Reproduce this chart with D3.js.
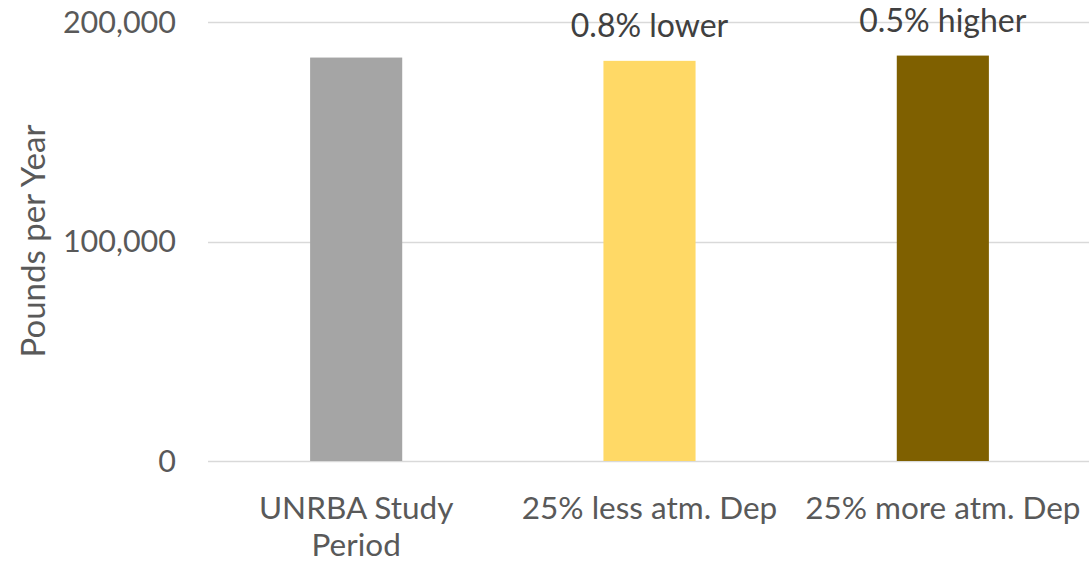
<!DOCTYPE html>
<html>
<head>
<meta charset="utf-8">
<script src="https://cdn.jsdelivr.net/npm/d3@7"></script>
<style>
  body { margin: 0; background: #fff; }
  text { font-family: Lato, "Open Sans", sans-serif; fill: #595959; }
</style>
</head>
<body>
<div class="chart"></div>
<script>
// categories and values
const categories = ["UNRBA Study Period", "25% less atm. Dep", "25% more atm. Dep"];
const categoryLines = [["UNRBA Study", "Period"], ["25% less atm. Dep"], ["25% more atm. Dep"]];
const values = [183800, 182300, 184700];
const notes = ["", "0.8% lower", "0.5% higher"];
const barColors = ["#a5a5a5", "#ffd966", "#7f6000"];
const yTicks = [0, 100000, 200000];

const width = 1089, height = 562;
const margin = {top: 22, right: 0, bottom: 101, left: 209.5};

const svg = d3.select(".chart")
  .append("svg")
    .attr("width", width)
    .attr("height", height);

const xScale = d3.scaleBand()
  .domain(categories)
  .range([margin.left, width - margin.right + 0.5])
  .paddingInner(0.686)
  .paddingOuter(0.343);

const yScale = d3.scaleLinear()
  .domain([0, 200000])
  .range([height - margin.bottom, margin.top]);

// gridlines
svg.append("g")
  .selectAll("line")
  .data(yTicks)
  .join("line")
    .attr("x1", 208)
    .attr("x2", width)
    .attr("y1", d => Math.round(yScale(d)) + 0.5)
    .attr("y2", d => Math.round(yScale(d)) + 0.5)
    .attr("stroke", "#d9d9d9")
    .attr("stroke-width", 1.5);

// y tick labels
svg.append("g")
  .selectAll("text")
  .data(yTicks)
  .join("text")
    .attr("x", 176)
    .attr("y", d => yScale(d))
    .attr("dy", "0.35em")
    .attr("text-anchor", "end")
    .style("font-size", "30.5px")
    .text(d => d3.format(",")(d));

// y axis title
svg.append("text")
  .attr("transform", "translate(45," + 241 + ") rotate(-90)")
  .attr("text-anchor", "middle")
  .style("font-size", "33px")
  .text("Pounds per Year");

// bars
svg.append("g")
  .selectAll("rect")
  .data(categories)
  .join("rect")
    .attr("x", d => xScale(d))
    .attr("width", xScale.bandwidth())
    .attr("y", (d, i) => yScale(values[i]))
    .attr("height", (d, i) => yScale(0) - yScale(values[i]))
    .attr("fill", (d, i) => barColors[i]);

// notes above bars
svg.append("g")
  .selectAll("text")
  .data(categories)
  .join("text")
    .attr("x", d => xScale(d) + xScale.bandwidth() / 2)
    .attr("y", (d, i) => yScale(values[i]) - 24)
    .attr("text-anchor", "middle")
    .style("font-size", "32px")
    .style("fill", "#404040")
    .text((d, i) => notes[i]);

// category labels
const cat = svg.append("g")
  .selectAll("text")
  .data(categories)
  .join("text")
    .attr("x", d => xScale(d) + xScale.bandwidth() / 2)
    .attr("y", 519)
    .attr("text-anchor", "middle")
    .style("font-size", "31.5px");

cat.selectAll("tspan")
  .data((d, i) => categoryLines[i])
  .join("tspan")
    .attr("x", function() { return this.parentNode.getAttribute("x"); })
    .attr("dy", (d, j) => j === 0 ? 0 : 37)
    .text(d => d);
</script>
</body>
</html>
